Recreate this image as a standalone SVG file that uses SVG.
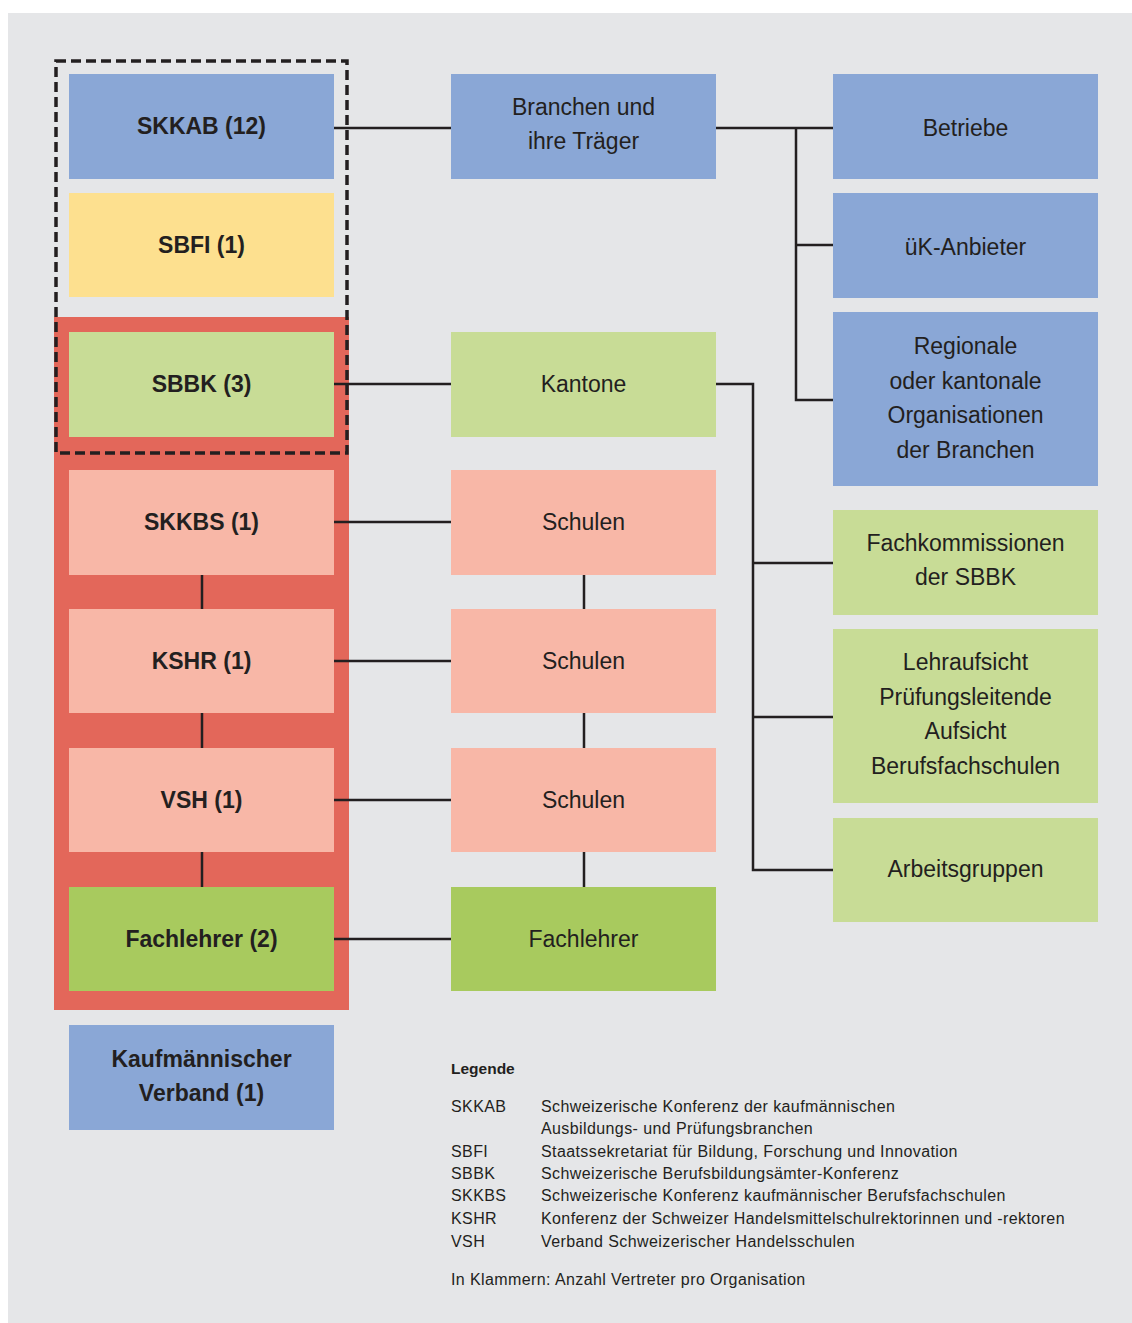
<svg xmlns="http://www.w3.org/2000/svg" width="1132" height="1323" viewBox="0 0 1132 1323">
<style>
.blue{fill:#8aa7d6}.yellow{fill:#fde08f}.lgreen{fill:#c8dc96}.salmon{fill:#f8b7a7}.green{fill:#a8ca5e}
.b{font-family:"Liberation Sans",Arial,sans-serif;font-weight:bold;font-size:23px;fill:#231f20;text-anchor:middle}
.t{font-family:"Liberation Sans",Arial,sans-serif;font-size:23px;fill:#231f20;text-anchor:middle}
.l{font-family:"Liberation Sans",Arial,sans-serif;font-size:16px;letter-spacing:0.4px;fill:#231f20}
.lb{font-family:"Liberation Sans",Arial,sans-serif;font-size:15.5px;font-weight:bold;fill:#231f20}
.c{stroke:#231f20;stroke-width:2.5;fill:none}
</style>
<rect x="0" y="0" width="1132" height="1323" fill="#ffffff"/>
<rect x="8" y="13" width="1124" height="1310" fill="#e5e6e8"/>
<rect id="red-frame" x="54" y="317" width="295" height="693" fill="#e3675a"/>
<g id="connectors">
<path class="c" d="M334 128H451M716 128H833M796 128V400H833M796 245H833"/>
<path class="c" d="M334 384H451M716 384H753V870H833M753 563H833M753 717H833"/>
<path class="c" d="M334 522H451M334 661H451M334 800H451M334 939H451"/>
<path class="c" d="M202 575V609M202 713V748M202 852V887"/>
<path class="c" d="M584 575V609M584 713V748M584 852V887"/>
</g>
<g id="SKKAB"><rect class="blue" x="69" y="74" width="265" height="105"/><text class="b" x="201.5" y="134">SKKAB (12)</text></g>
<g id="SBFI"><rect class="yellow" x="69" y="193" width="265" height="104"/><text class="b" x="201.5" y="253">SBFI (1)</text></g>
<g id="SBBK"><rect class="lgreen" x="69" y="332" width="265" height="105"/><text class="b" x="201.5" y="392">SBBK (3)</text></g>
<g id="SKKBS"><rect class="salmon" x="69" y="470" width="265" height="105"/><text class="b" x="201.5" y="530">SKKBS (1)</text></g>
<g id="KSHR"><rect class="salmon" x="69" y="609" width="265" height="104"/><text class="b" x="201.5" y="669">KSHR (1)</text></g>
<g id="VSH"><rect class="salmon" x="69" y="748" width="265" height="104"/><text class="b" x="201.5" y="808">VSH (1)</text></g>
<g id="Fachlehrer-left"><rect class="green" x="69" y="887" width="265" height="104"/><text class="b" x="201.5" y="947">Fachlehrer (2)</text></g>
<g id="Kaufmaennischer"><rect class="blue" x="69" y="1025" width="265" height="105"/><text class="b" x="201.5" y="1067">Kaufmännischer</text><text class="b" x="201.5" y="1101">Verband (1)</text></g>
<rect id="dashed-group" x="56" y="61" width="291" height="392" fill="none" stroke="#231f20" stroke-width="3.5" stroke-dasharray="10,5"/>
<g id="Branchen"><rect class="blue" x="451" y="74" width="265" height="105"/><text class="t" x="583.5" y="115">Branchen und</text><text class="t" x="583.5" y="149">ihre Träger</text></g>
<g id="Kantone"><rect class="lgreen" x="451" y="332" width="265" height="105"/><text class="t" x="583.5" y="392">Kantone</text></g>
<g id="Schulen1"><rect class="salmon" x="451" y="470" width="265" height="105"/><text class="t" x="583.5" y="530">Schulen</text></g>
<g id="Schulen2"><rect class="salmon" x="451" y="609" width="265" height="104"/><text class="t" x="583.5" y="669">Schulen</text></g>
<g id="Schulen3"><rect class="salmon" x="451" y="748" width="265" height="104"/><text class="t" x="583.5" y="808">Schulen</text></g>
<g id="Fachlehrer-mid"><rect class="green" x="451" y="887" width="265" height="104"/><text class="t" x="583.5" y="947">Fachlehrer</text></g>
<g id="Betriebe"><rect class="blue" x="833" y="74" width="265" height="105"/><text class="t" x="965.5" y="136">Betriebe</text></g>
<g id="uek"><rect class="blue" x="833" y="193" width="265" height="105"/><text class="t" x="965.5" y="255">üK-Anbieter</text></g>
<g id="Regionale"><rect class="blue" x="833" y="312" width="265" height="174"/><text class="t" x="965.5" y="354">Regionale</text><text class="t" x="965.5" y="389">oder kantonale</text><text class="t" x="965.5" y="423">Organisationen</text><text class="t" x="965.5" y="458">der Branchen</text></g>
<g id="Fachkommissionen"><rect class="lgreen" x="833" y="510" width="265" height="105"/><text class="t" x="965.5" y="551">Fachkommissionen</text><text class="t" x="965.5" y="585">der SBBK</text></g>
<g id="Lehraufsicht"><rect class="lgreen" x="833" y="629" width="265" height="174"/><text class="t" x="965.5" y="670">Lehraufsicht</text><text class="t" x="965.5" y="705">Prüfungsleitende</text><text class="t" x="965.5" y="739">Aufsicht</text><text class="t" x="965.5" y="774">Berufsfachschulen</text></g>
<g id="Arbeitsgruppen"><rect class="lgreen" x="833" y="818" width="265" height="104"/><text class="t" x="965.5" y="877">Arbeitsgruppen</text></g>
<g id="legend">
<text class="lb" x="451" y="1074">Legende</text>
<text class="l" x="451" y="1112">SKKAB</text><text class="l" x="541" y="1112">Schweizerische Konferenz der kaufmännischen</text>
<text class="l" x="541" y="1134">Ausbildungs- und Prüfungsbranchen</text>
<text class="l" x="451" y="1157">SBFI</text><text class="l" x="541" y="1157">Staatssekretariat für Bildung, Forschung und Innovation</text>
<text class="l" x="451" y="1179">SBBK</text><text class="l" x="541" y="1179">Schweizerische Berufsbildungsämter-Konferenz</text>
<text class="l" x="451" y="1201">SKKBS</text><text class="l" x="541" y="1201">Schweizerische Konferenz kaufmännischer Berufsfachschulen</text>
<text class="l" x="451" y="1224">KSHR</text><text class="l" x="541" y="1224">Konferenz der Schweizer Handelsmittelschulrektorinnen und -rektoren</text>
<text class="l" x="451" y="1247">VSH</text><text class="l" x="541" y="1247">Verband Schweizerischer Handelsschulen</text>
<text class="l" x="451" y="1285">In Klammern: Anzahl Vertreter pro Organisation</text>
</g>
</svg>
